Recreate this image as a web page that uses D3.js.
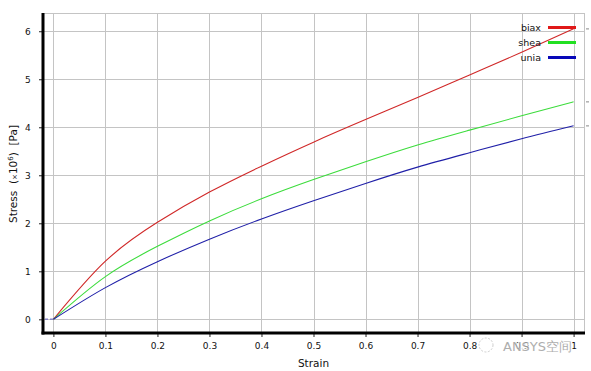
<!DOCTYPE html>
<html>
<head>
<meta charset="utf-8">
<script src="https://cdn.jsdelivr.net/npm/d3@7"></script>
<style>
  body { margin: 0; background: #fff; }
  svg text { font-family: "DejaVu Sans", sans-serif; }
</style>
</head>
<body>
<svg id="chart"></svg>
<script>
// Data
let strain = [0, 0.1, 0.2, 0.3, 0.4, 0.5, 0.6, 0.7, 0.8, 0.9, 1.0];
let biax = [0, 1.21, 2.02, 2.65, 3.19, 3.69, 4.16, 4.62, 5.09, 5.56, 6.05];
let shea = [0, 0.89, 1.52, 2.05, 2.51, 2.91, 3.28, 3.63, 3.94, 4.24, 4.53];
let unia = [0, 0.66, 1.2, 1.67, 2.09, 2.47, 2.83, 3.17, 3.47, 3.76, 4.03];
let xTicks = [0, 0.1, 0.2, 0.3, 0.4, 0.5, 0.6, 0.7, 0.8, 0.9, 1];
let yTicks = [0, 1, 2, 3, 4, 5, 6];

let series = [
    { label: 'biax', values: biax, line: '#d02828', key: '#e01818' },
    { label: 'shea', values: shea, line: '#3cdc3c', key: '#22e022' },
    { label: 'unia', values: unia, line: '#2020a8', key: '#0808b8' }
];

// SVG Size
let width = 591;
let height = 371;
let plotL = 43, plotR = 584, plotT = 13, plotB = 333;

let svg = d3.select("#chart")
    .attr("width", width)
    .attr("height", height);

// Scales
let x = d3.scaleLinear().domain([-0.02, 1.02]).range([plotL, plotR]);
let y = d3.scaleLinear().domain([-0.285, 6.38]).range([plotB, plotT]);

// Grid
let grid = svg.append("g").attr("stroke", "#c4c4c4").attr("stroke-width", 1);
grid.selectAll("line.v")
    .data(xTicks)
    .enter()
    .append("line")
    .attr("x1", d => Math.round(x(d)) + 0.5)
    .attr("x2", d => Math.round(x(d)) + 0.5)
    .attr("y1", plotT)
    .attr("y2", plotB);
grid.selectAll("line.h")
    .data(yTicks)
    .enter()
    .append("line")
    .attr("x1", plotL)
    .attr("x2", plotR)
    .attr("y1", d => Math.round(y(d)) + 0.5)
    .attr("y2", d => Math.round(y(d)) + 0.5);
// top and right border
grid.append("line").attr("x1", plotL).attr("x2", plotR).attr("y1", plotT + 0.5).attr("y2", plotT + 0.5);
grid.append("line").attr("x1", plotR + 0.5).attr("x2", plotR + 0.5).attr("y1", plotT).attr("y2", plotB);

// Axes
let xAxis = d3.axisBottom(x).tickValues(xTicks).tickSize(4).tickSizeOuter(0)
    .tickFormat(d => d === 0 || d === 1 ? d3.format("d")(d) : d3.format(".1f")(d));
let yAxis = d3.axisLeft(y).tickValues(yTicks).tickSize(4).tickSizeOuter(0)
    .tickFormat(d3.format("d"));

let gx = svg.append("g").attr("transform", `translate(0, ${plotB})`).call(xAxis);
let gy = svg.append("g").attr("transform", `translate(${plotL}, 0)`).call(yAxis);
[gx, gy].forEach(g => {
    g.select(".domain").remove();
    g.selectAll("text").attr("font-size", 9).attr("fill", "#111");
    g.selectAll(".tick line").attr("stroke", "#222");
});
gx.selectAll("text").attr("dy", "1.05em");
gy.selectAll("text").attr("dx", "-0.6em");

svg.append("line").attr("x1", plotL).attr("x2", plotL)
    .attr("y1", plotT).attr("y2", plotB + 1.5)
    .attr("stroke", "#000").attr("stroke-width", 3);
svg.append("line").attr("x1", plotL - 1.5).attr("x2", plotR + 1)
    .attr("y1", plotB).attr("y2", plotB)
    .attr("stroke", "#000").attr("stroke-width", 3);

// Lead-in segment before zero strain
svg.append("line")
    .attr("x1", x(-0.02) + 2).attr("x2", x(0))
    .attr("y1", y(0)).attr("y2", y(0))
    .attr("stroke", "#8a86c8").attr("stroke-width", 1.5)
    .attr("stroke-dasharray", "3,2");

// Curves
let line = d3.line()
    .x((d, i) => x(strain[i]))
    .y(d => y(d))
    .curve(d3.curveNatural);

svg.selectAll("path.curve")
    .data(series)
    .enter()
    .append("path")
    .attr("fill", "none")
    .attr("stroke", d => d.line)
    .attr("stroke-width", 1.1)
    .attr("d", d => line(d.values));

// small end marks at right edge
svg.selectAll("line.end")
    .data(series)
    .enter()
    .append("line")
    .attr("x1", plotR + 2).attr("x2", plotR + 5)
    .attr("y1", d => y(d.values[d.values.length - 1]))
    .attr("y2", d => y(d.values[d.values.length - 1]))
    .attr("stroke", "#b0b0b0").attr("stroke-width", 1.5);

// Legend
let legend = svg.selectAll("g.legend")
    .data(series)
    .enter()
    .append("g")
    .attr("transform", (d, i) => `translate(0, ${27.5 + i * 15})`);
legend.append("line")
    .attr("x1", 548).attr("x2", 576)
    .attr("stroke", d => d.key).attr("stroke-width", 3);
legend.append("text")
    .attr("x", 541).attr("y", 3)
    .attr("text-anchor", "end")
    .attr("font-size", 9.5)
    .attr("fill", "#111")
    .text(d => d.label);

// Axis titles
svg.append("text")
    .attr("x", (plotL + plotR) / 2).attr("y", 367)
    .attr("text-anchor", "middle")
    .attr("font-size", 10.5)
    .attr("fill", "#111")
    .text("Strain");

let yl = svg.append("text")
    .attr("transform", "translate(17, 174) rotate(-90)")
    .attr("text-anchor", "middle")
    .attr("font-size", 10.5)
    .attr("fill", "#111");
yl.append("tspan").text("Stress\u00a0\u00a0(");
yl.append("tspan").attr("font-size", 7).text("×");
yl.append("tspan").text("10");
yl.append("tspan").attr("font-size", 7).attr("dy", -4).text("6");
yl.append("tspan").attr("dy", 4).text(")\u00a0\u00a0[Pa]");

// Watermark (sits over the 0.9 tick label, as in the reference)
let wm = svg.append("g").attr("opacity", 0.85);
wm.append("circle").attr("cx", 486).attr("cy", 345).attr("r", 7)
    .attr("fill", "none").attr("stroke", "#c8c8c8").attr("stroke-width", 1)
    .attr("stroke-dasharray", "2,1.5");
wm.append("text")
    .attr("x", 503).attr("y", 351)
    .attr("font-size", 13)
    .attr("fill", "#a0a0a0")
    .attr("stroke", "#fff").attr("stroke-width", 2.5)
    .attr("paint-order", "stroke")
    .attr("font-family", "'DejaVu Sans', 'Noto Sans CJK SC', sans-serif")
    .text("ANSYS空间");
</script>
</body>
</html>
